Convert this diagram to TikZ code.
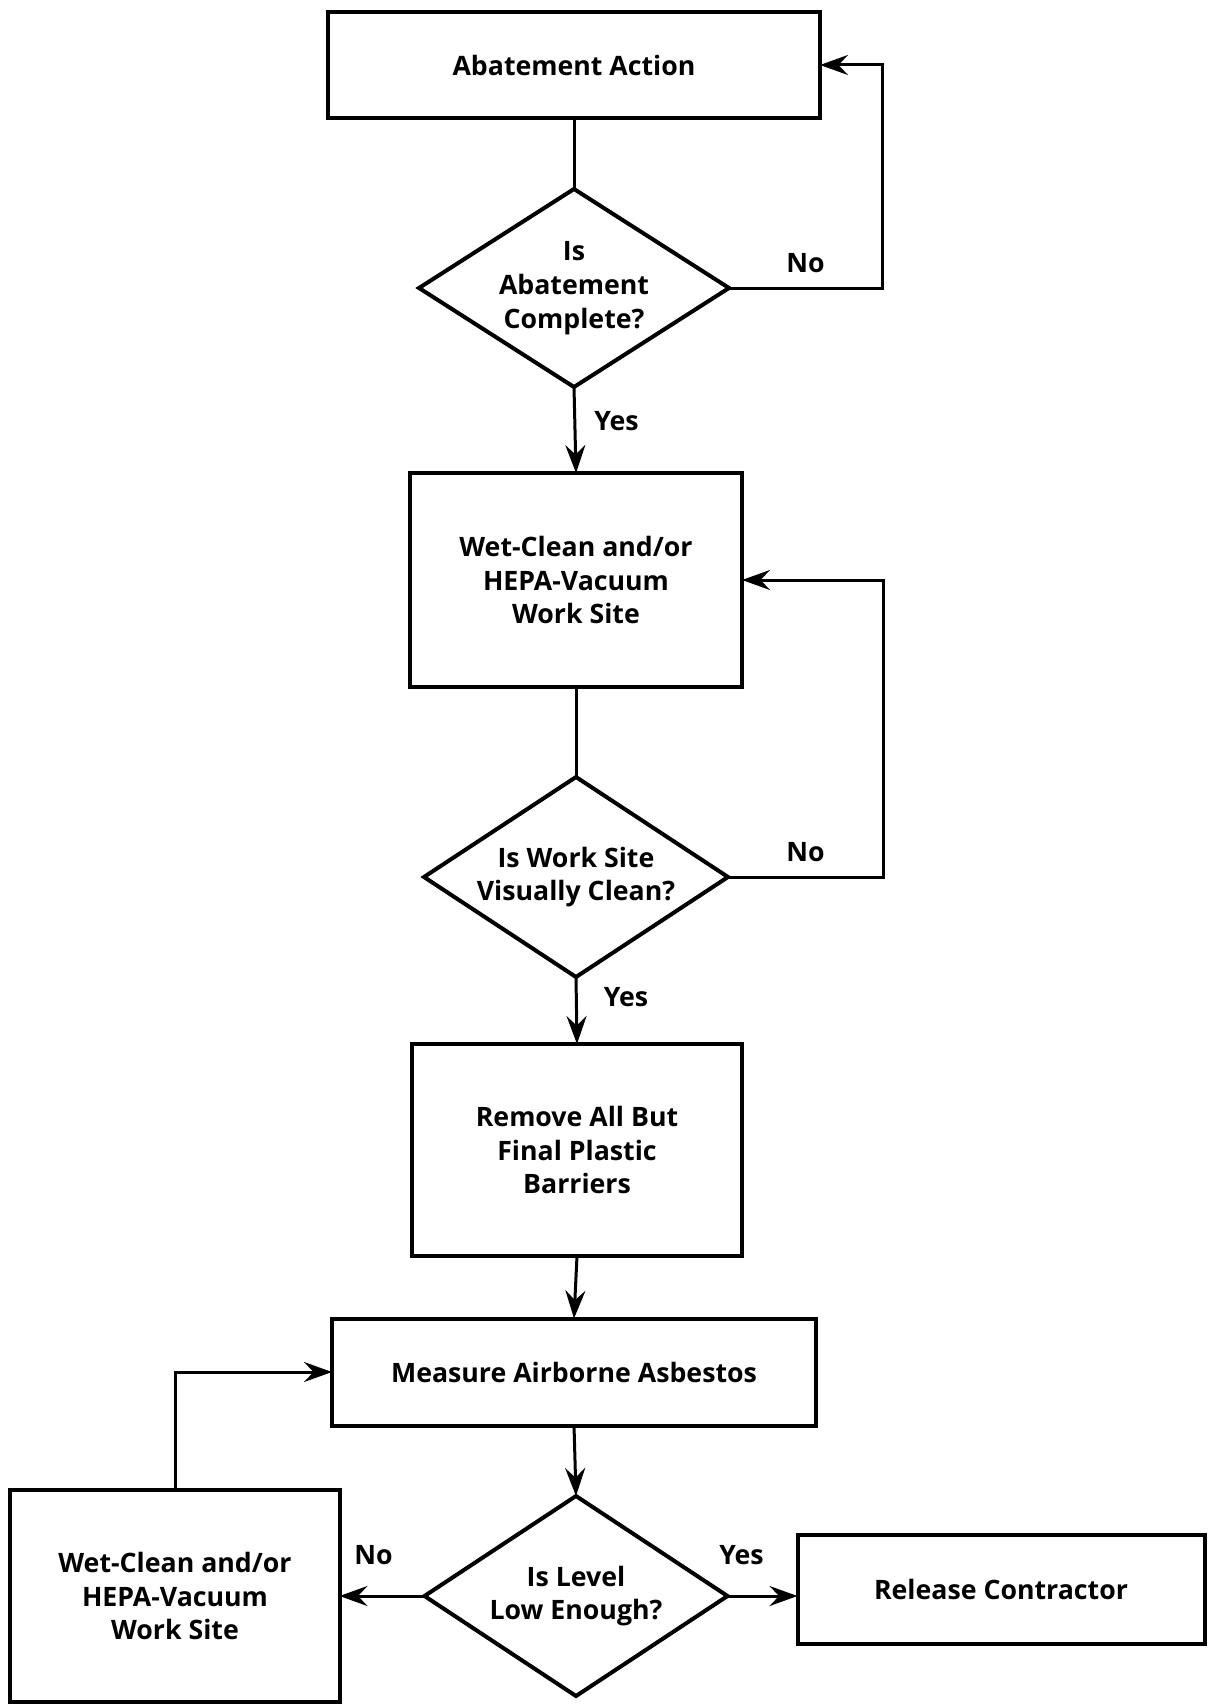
\documentclass[tikz,border=0pt]{standalone}
\usepackage{fontspec}
\setmainfont{Open Sans}
\usetikzlibrary{shapes.geometric,arrows.meta}

\begin{document}
\begin{tikzpicture}[x=0.25mm,y=-0.25mm]
  \tikzset{%
    txt/.style={font=\bfseries\fontsize{19}{24}\selectfont},
    box/.style={txt,draw,line width=1mm,inner sep=0pt,outer sep=0pt,align=center},
    ask/.style={box,diamond,aspect=1.55},
    lbl/.style={txt,inner sep=0pt},
    conn/.style={line width=0.75mm},
    >={Stealth[length=7mm,width=5mm,inset=2.4mm]}
  }
  \useasboundingbox (0,0) rectangle (1207,1704);

  % main column
  \node[box,minimum width=123mm,minimum height=26.5mm] (act) at (574,65) {Abatement Action};
  \node[ask,minimum width=77.5mm,minimum height=49.5mm] (done) at (574,288) {Is\\Abatement\\Complete?};
  \node[box,minimum width=83mm,minimum height=53.5mm] (clean) at (576,580) {Wet-Clean and/or\\HEPA-Vacuum\\Work Site};
  \node[ask,minimum width=76mm,minimum height=50mm] (visual) at (576,877) {Is Work Site\\Visually Clean?};
  \node[box,minimum width=82.5mm,minimum height=53mm] (barrier) at (577,1150) {Remove All But\\Final Plastic\\Barriers};
  \node[box,minimum width=121mm,minimum height=26.75mm] (measure) at (574,1372) {Measure Airborne Asbestos};
  \node[ask,minimum width=75.75mm,minimum height=50mm] (level) at (576,1596) {Is Level\\Low Enough?};
  % side boxes
  \node[box,minimum width=82.25mm,minimum height=53mm] (reclean) at (175,1596) {Wet-Clean and/or\\HEPA-Vacuum\\Work Site};
  \node[box,minimum width=101.75mm,minimum height=27.25mm] (release) at (1001,1589) {Release Contractor};

  \coordinate (loopa) at (882,288);
  \coordinate (loopb) at (883,877);

  \draw[conn] (act.south) -- (done.north);
  \draw[conn,->] (done.south) -- node[lbl,pos=0.4,right=4.5mm] {Yes} (clean.north);
  \draw[conn,->] (done.east) -- node[lbl,above=3.5mm] {No} (loopa) |- (act.east);
  \draw[conn] (clean.south) -- (visual.north);
  \draw[conn,->] (visual.south) -- node[lbl,pos=0.3,right=6.5mm] {Yes} (barrier.north);
  \draw[conn,->] (visual.east) -- node[lbl,above=3.5mm] {No} (loopb) |- (clean.east);
  \draw[conn,->] (barrier.south) -- (measure.north);
  \draw[conn,->] (measure.south) -- (level.north);
  \draw[conn,->] (level.west) -- node[lbl,pos=0.6,above=7.5mm] {No} (level.west -| reclean.east);
  \draw[conn,->] (level.east) -- node[lbl,pos=0.2,above=7.5mm] {Yes} (level.east -| release.west);
  \draw[conn,->] (reclean.north) |- (measure.west);
\end{tikzpicture}
\end{document}
